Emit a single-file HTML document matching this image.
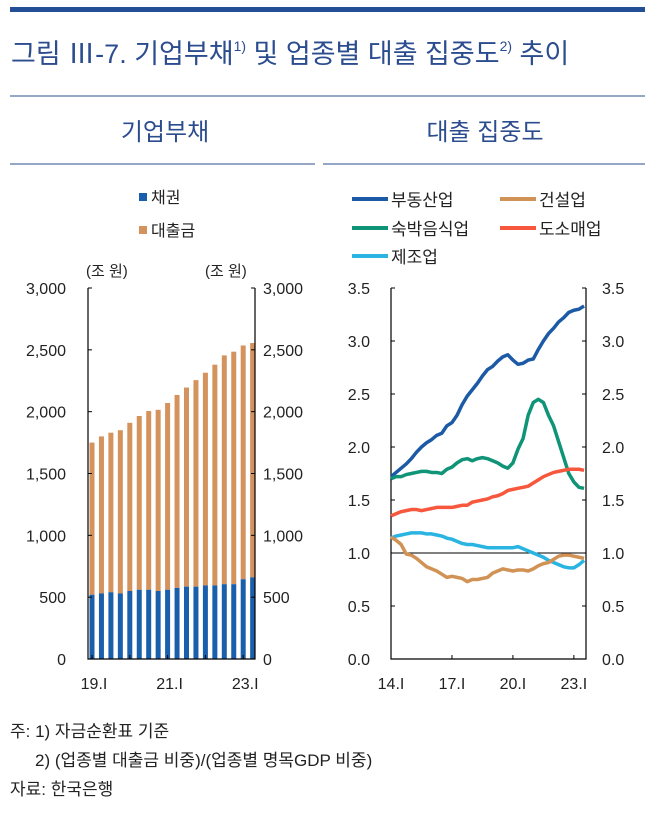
<!DOCTYPE html>
<html><head><meta charset="utf-8">
<style>
body{margin:0;background:#fff;}
svg text{font-family:"Liberation Sans","Noto Sans CJK KR",sans-serif;}
</style></head>
<body>
<svg id="s" width="655" height="822" xmlns="http://www.w3.org/2000/svg">
<rect x="10" y="7" width="635" height="5" fill="#234f96"/>
<text x="11" y="63" font-size="27" fill="#2b4c8f">그림 Ⅲ-7. 기업부채<tspan font-size="14" dy="-12">1)</tspan><tspan dy="12"> 및 업종별 대출 집중도</tspan><tspan font-size="14" dy="-12">2)</tspan><tspan dy="12"> 추이</tspan></text>
<line x1="10" y1="96" x2="645" y2="96" stroke="#2b4c8f"/>
<text x="165" y="140" font-size="24" fill="#2b4c8f" text-anchor="middle">기업부채</text>
<text x="485" y="140" font-size="24" fill="#2b4c8f" text-anchor="middle">대출 집중도</text>
<line x1="10" y1="164" x2="315" y2="164" stroke="#2b4c8f"/>
<line x1="323" y1="164" x2="645" y2="164" stroke="#2b4c8f"/>
<g id="left"></g>
<g id="right"></g>
<text x="10" y="737" font-size="17" fill="#222">주: 1) 자금순환표 기준</text>
<text x="35" y="766" font-size="17" fill="#222">2) (업종별 대출금 비중)/(업종별 명목GDP 비중)</text>
<text x="10" y="795" font-size="17" fill="#222">자료: 한국은행</text>
</svg>
<script>
const barTotals=[1750,1800,1830,1850,1910,1965,2005,2015,2070,2135,2195,2255,2315,2380,2455,2485,2535,2555];
const barBonds=[520,530,540,530,550,560,560,550,560,575,585,585,595,595,605,605,645,660];
const leftTicks=[0,500,1000,1500,2000,2500,3000];
const leftTickLabels=["0","500","1,000","1,500","2,000","2,500","3,000"];
const barXLabels=[[0,"19.I"],[8,"21.I"],[16,"23.I"]];

const realEstate=[1.72,1.76,1.80,1.84,1.89,1.95,2.00,2.04,2.07,2.11,2.13,2.20,2.23,2.30,2.40,2.48,2.54,2.60,2.67,2.73,2.76,2.81,2.85,2.87,2.82,2.78,2.79,2.82,2.83,2.92,3.00,3.07,3.12,3.18,3.22,3.27,3.29,3.30,3.33];
const construction=[1.15,1.12,1.08,0.99,0.98,0.95,0.91,0.87,0.85,0.83,0.80,0.77,0.78,0.77,0.76,0.73,0.75,0.75,0.76,0.77,0.81,0.83,0.85,0.84,0.83,0.84,0.84,0.83,0.85,0.88,0.90,0.91,0.94,0.97,0.98,0.98,0.97,0.96,0.95];
const lodging=[1.70,1.72,1.72,1.74,1.75,1.76,1.77,1.77,1.76,1.76,1.75,1.79,1.81,1.85,1.88,1.89,1.87,1.89,1.90,1.89,1.87,1.85,1.82,1.80,1.85,1.98,2.08,2.30,2.42,2.45,2.42,2.30,2.20,2.05,1.90,1.75,1.67,1.62,1.61];
const wholesale=[1.35,1.37,1.39,1.40,1.41,1.41,1.40,1.41,1.42,1.43,1.43,1.43,1.43,1.44,1.45,1.45,1.48,1.49,1.50,1.51,1.53,1.54,1.56,1.59,1.60,1.61,1.62,1.63,1.66,1.69,1.72,1.74,1.76,1.77,1.78,1.79,1.79,1.79,1.78];
const manufacturing=[1.14,1.16,1.17,1.18,1.19,1.19,1.19,1.18,1.18,1.17,1.16,1.14,1.13,1.11,1.09,1.08,1.08,1.07,1.06,1.05,1.05,1.05,1.05,1.05,1.05,1.06,1.04,1.02,1.00,0.98,0.96,0.93,0.91,0.89,0.87,0.86,0.86,0.89,0.93];
const rightTicks=[0,0.5,1,1.5,2,2.5,3,3.5];
const rightTickLabels=["0.0","0.5","1.0","1.5","2.0","2.5","3.0","3.5"];
const lineXLabels=[[0,"14.I"],[12,"17.I"],[24,"20.I"],[36,"23.I"]];

const NS="http://www.w3.org/2000/svg";
function mk(tag,attrs,parent,txt){const e=document.createElementNS(NS,tag);for(const k in attrs)e.setAttribute(k,attrs[k]);if(txt!==undefined)e.textContent=txt;parent.appendChild(e);return e;}
const Y0=659,Y1=288;
const L=document.getElementById('left');
const lx0=88,lx1=255;
const ly=v=>Y0-(v/3000)*(Y0-Y1);
const bx=i=>90+i*9.45;
barTotals.forEach((t,i)=>{
  const b=barBonds[i];
  const r1=mk('rect',{x:bx(i)-0.5,y:ly(t),width:5,height:ly(b)-ly(t),fill:'#d4925c'},L);
  
  
  const r2=mk('rect',{x:bx(i)-0.5,y:ly(b),width:5,height:Y0-ly(b),fill:'#1a5fab'},L);
  
  
});
mk('path',{d:`M${lx0},${Y1} V${Y0} H${lx1} V${Y1}`,fill:'none',stroke:'#000','stroke-width':1.2},L);
leftTicks.forEach((v,i)=>{
  mk('line',{x1:lx0,x2:lx0+4,y1:ly(v),y2:ly(v),stroke:'#000'},L);
  mk('line',{x1:lx1-4,x2:lx1,y1:ly(v),y2:ly(v),stroke:'#000'},L);
  const a=mk('text',{x:66,y:ly(v)+6,'font-size':16,'text-anchor':'end',fill:'#222'},L,leftTickLabels[i]);
  
  
  const b=mk('text',{x:263,y:ly(v)+6,'font-size':16,fill:'#222'},L,leftTickLabels[i]);
  
  
});
barTotals.forEach((t,i)=>{ if(i%4==0) mk('line',{x1:bx(i)+2,x2:bx(i)+2,y1:Y0,y2:Y0-4,stroke:'#000'},L);});
barXLabels.forEach(([i,s])=>{const t=mk('text',{x:bx(i)+4,y:689,'font-size':16,'text-anchor':'middle',fill:'#222'},L,s);
  });
mk('text',{x:86,y:276,'font-size':15,fill:'#222'},L,'(조 원)');
mk('text',{x:205,y:276,'font-size':15,fill:'#222'},L,'(조 원)');
mk('rect',{x:139,y:193,width:8,height:8,fill:'#1a5fab'},L);
mk('text',{x:151,y:203,'font-size':16,fill:'#222'},L,'채권');
mk('rect',{x:139,y:226,width:8,height:8,fill:'#d4925c'},L);
mk('text',{x:151,y:236,'font-size':16,fill:'#222'},L,'대출금');

const R=document.getElementById('right');
const rx0=391,rx1=586;
const rxs=i=>rx0+i*5.08;
const ry=v=>Y0-(v/3.5)*(Y0-Y1);
mk('path',{d:`M${rx0},${Y1} V${Y0} H${rx1} V${Y1}`,fill:'none',stroke:'#000','stroke-width':1.2},R);
mk('line',{x1:rx0,x2:rx1,y1:ry(1),y2:ry(1),stroke:'#000'},R);
rightTicks.forEach((v,i)=>{
  mk('line',{x1:rx0,x2:rx0+4,y1:ry(v),y2:ry(v),stroke:'#000'},R);
  mk('line',{x1:rx1-4,x2:rx1,y1:ry(v),y2:ry(v),stroke:'#000'},R);
  const a=mk('text',{x:370,y:ry(v)+6,'font-size':16,'text-anchor':'end',fill:'#222'},R,rightTickLabels[i]);
  
  const b=mk('text',{x:602,y:ry(v)+6,'font-size':16,fill:'#222'},R,rightTickLabels[i]);
  
});
lineXLabels.forEach(([i,s])=>{
  mk('line',{x1:rxs(i),x2:rxs(i),y1:Y0,y2:Y0-4,stroke:'#000'},R);
  const t=mk('text',{x:rxs(i),y:689,'font-size':16,'text-anchor':'middle',fill:'#222'},R,s);
  
});
const series=[[realEstate,'#1c5aa6','real-estate-line'],[lodging,'#0f9477','lodging-line'],[wholesale,'#f6573d','wholesale-line'],[manufacturing,'#2ab4e2','manufacturing-line'],[construction,'#d19256','construction-line']];
series.forEach(([d,c,n])=>{
  const p=mk('polyline',{points:d.map((v,i)=>rxs(i)+','+ry(v)).join(' '),fill:'none',stroke:c,'stroke-width':3.5,'stroke-linejoin':'round'},R);
  
  
});
const leg=[['부동산업','#1c5aa6',352,199],['건설업','#d19256',500,199],['숙박음식업','#0f9477',352,228],['도소매업','#f6573d',500,228],['제조업','#2ab4e2',352,256]];
leg.forEach(([s,c,x,y])=>{
  mk('line',{x1:x,x2:x+36,y1:y,y2:y,stroke:c,'stroke-width':4},R);
  const t=mk('text',{x:x+39,y:y+7,'font-size':17,fill:'#222'},R,s);
  
  
});
</script>
</body></html>
